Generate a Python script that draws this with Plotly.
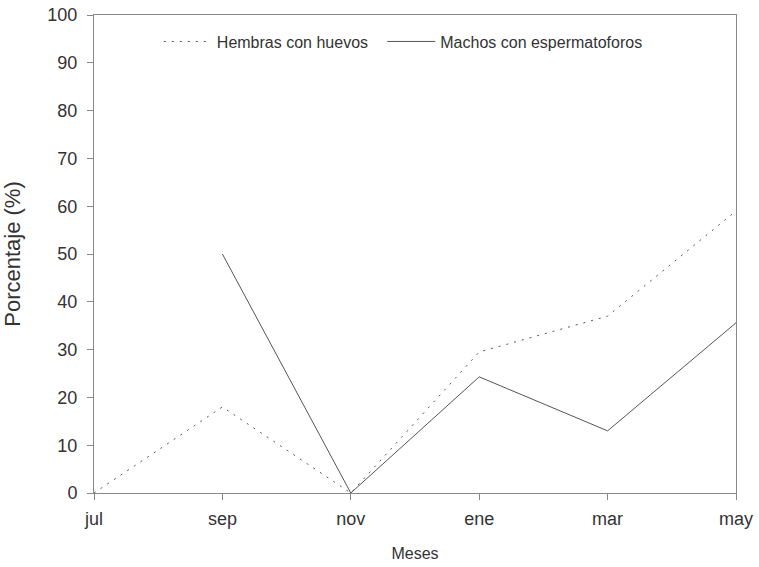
import plotly.graph_objects as go

meses = ["jul", "sep", "nov", "ene", "mar", "may"]
hembras_con_huevos = [0, 18, 0, 29.5, 37, 59]
machos_meses = ["sep", "nov", "ene", "mar", "may"]
machos_con_espermatoforos = [50, 0, 24.3, 13, 35.6]
y_ticks = list(range(0, 101, 10))

fig = go.Figure()
fig.add_trace(go.Scatter(
    x=meses, y=hembras_con_huevos, mode="lines", name="Hembras con huevos",
    legend="legend",
    line=dict(color="#555555", width=1, dash="2px,6px"),
))
fig.add_trace(go.Scatter(
    x=machos_meses, y=machos_con_espermatoforos, mode="lines", name="Machos con espermatoforos",
    legend="legend2",
    line=dict(color="#555555", width=1),
))

legend_style = dict(
    orientation="h", xanchor="left", y=0.98, yanchor="top",
    font=dict(size=16, color="#333333"), bgcolor="rgba(0,0,0,0)", itemwidth=48,
)

fig.update_layout(
    width=759, height=567,
    margin=dict(l=94, r=23, t=15, b=74, autoexpand=False),
    plot_bgcolor="white", paper_bgcolor="white",
    font=dict(family="Liberation Sans, Arial, sans-serif", color="#333333"),
    showlegend=True,
    legend=dict(x=0.101, **legend_style),
    legend2=dict(x=0.449, **legend_style),
    xaxis=dict(
        type="category", categoryorder="array", categoryarray=meses,
        range=[0, 5], showgrid=False, zeroline=False, automargin=False,
        showline=True, linecolor="#888888", linewidth=1, mirror=True,
        ticks="outside", ticklen=6, tickcolor="#888888", ticklabelstandoff=3,
        tickfont=dict(size=18, color="#333333"),
        title=dict(text="Meses", font=dict(size=16, color="#333333"), standoff=20),
    ),
    yaxis=dict(
        range=[0, 100], tickvals=y_ticks, showgrid=False, zeroline=False, automargin=False,
        showline=True, linecolor="#888888", linewidth=1, mirror=True,
        ticks="outside", ticklen=6, tickcolor="#888888", ticklabelstandoff=6,
        tickfont=dict(size=18, color="#333333"),
        title=dict(text="Porcentaje (%)", font=dict(size=22, color="#333333"), standoff=25),
    ),
)

fig.write_html(
    "out.html",
    config={"displayModeBar": False},
    post_script="document.body.style.margin='0';",
)
